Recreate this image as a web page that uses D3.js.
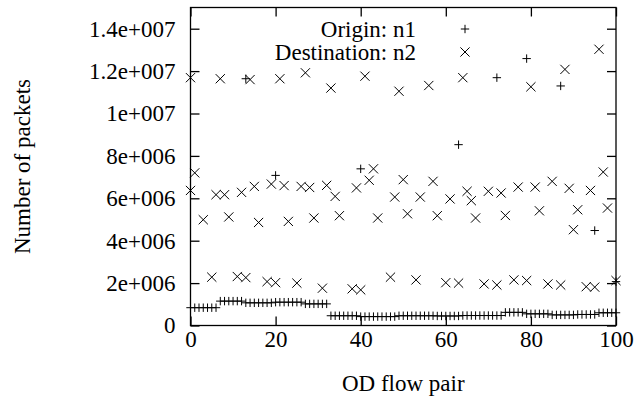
<!DOCTYPE html>
<html>
<head>
<meta charset="utf-8">
<script src="https://cdn.jsdelivr.net/npm/d3@7"></script>
<style>
  html, body { margin: 0; padding: 0; background: #fff; }
  svg { display: block; }
</style>
</head>
<body>
<svg id="chart" width="637" height="399"></svg>
<script>
// ---- data ----
const xTicks = [0, 20, 40, 60, 80, 100];
const yTicks = [0, 2e6, 4e6, 6e6, 8e6, 1e7, 1.2e7, 1.4e7];
const yTickLabels = ["0", "2e+006", "4e+006", "6e+006", "8e+006", "1e+007", "1.2e+007", "1.4e+007"];
const seriesNames = ["Origin: n1", "Destination: n2"];

// Origin n1 (+)
const originX = [
  0,1,2,3,4,5,6,
  7,8,9,10,11,12,
  13,14,15,16,17,18,19,20,21,22,23,24,25,26,27,28,29,30,31,32,
  33,34,35,36,37,38,39,
  40,41,42,43,44,45,46,47,48,49,50,51,52,53,54,55,56,57,58,59,60,61,62,63,64,65,66,67,68,69,70,
  71,72,73,74,75,76,77,78,79,80,81,82,83,84,85,86,87,88,89,90,91,92,93,94,95,96,97,98,99,100,
  13,20,40,63,72,79,87,95,100
];
const originY = [
  0.84e6,0.84e6,0.84e6,0.84e6,0.84e6,0.84e6,0.84e6,
  1.15e6,1.15e6,1.15e6,1.15e6,1.15e6,1.15e6,
  1.07e6,1.07e6,1.07e6,1.07e6,1.07e6,1.07e6,1.07e6,1.1e6,1.1e6,1.1e6,1.1e6,1.1e6,1.1e6,1.1e6,1.02e6,1.02e6,1.02e6,1.02e6,1.02e6,1.02e6,
  0.46e6,0.46e6,0.46e6,0.46e6,0.46e6,0.46e6,0.46e6,
  0.42e6,0.42e6,0.42e6,0.42e6,0.42e6,0.42e6,0.42e6,0.42e6,0.42e6,0.46e6,0.46e6,0.46e6,0.46e6,0.46e6,0.46e6,0.46e6,0.46e6,0.46e6,0.45e6,0.45e6,0.45e6,0.45e6,0.45e6,0.45e6,0.47e6,0.47e6,0.47e6,0.47e6,0.47e6,0.47e6,0.47e6,
  0.47e6,0.47e6,0.47e6,0.62e6,0.62e6,0.62e6,0.62e6,0.62e6,0.55e6,0.55e6,0.55e6,0.55e6,0.55e6,0.55e6,0.5e6,0.5e6,0.5e6,0.5e6,0.5e6,0.5e6,0.52e6,0.52e6,0.52e6,0.52e6,0.52e6,0.6e6,0.6e6,0.6e6,0.6e6,0.6e6,
  11.64e6,7.08e6,7.39e6,8.53e6,11.69e6,12.59e6,11.3e6,4.48e6,2.07e6
];

// Destination n2 (x)
const destX = [
  0,7,14,21,27,33,41,49,56,64,80,88,96,
  1,0,3,6,8,9,12,15,16,19,22,23,26,28,29,32,34,35,39,43,42,44,48,50,51,54,57,58,61,65,66,67,70,73,74,77,81,82,85,89,91,90,94,97,98,
  5,11,13,18,20,25,31,38,40,47,53,60,63,69,72,76,79,84,87,93,95,100
];
const destY = [
  11.69e6,11.64e6,11.6e6,11.64e6,11.92e6,11.2e6,11.76e6,11.05e6,11.32e6,11.69e6,11.26e6,12.08e6,13.03e6,
  7.2e6,6.37e6,4.99e6,6.17e6,6.17e6,5.12e6,6.28e6,6.56e6,4.86e6,6.67e6,6.6e6,4.91e6,6.56e6,6.51e6,5.07e6,6.61e6,6.09e6,5.18e6,6.49e6,7.39e6,6.85e6,5.07e6,6.06e6,6.88e6,5.27e6,6.06e6,6.8e6,5.18e6,5.97e6,6.33e6,5.89e6,5.07e6,6.33e6,6.25e6,5.19e6,6.53e6,6.53e6,5.41e6,6.8e6,6.47e6,5.46e6,4.52e6,6.37e6,7.24e6,5.54e6,
  2.28e6,2.31e6,2.26e6,2.07e6,2.02e6,2.0e6,1.76e6,1.73e6,1.68e6,2.28e6,2.15e6,2.02e6,2.0e6,1.96e6,1.91e6,2.15e6,2.12e6,1.96e6,1.91e6,1.83e6,1.81e6,2.12e6
];

const xLabel = "OD flow pair";
const yLabel = "Number of packets";

// ---- layout ----
const FONT = "Liberation Serif";
const svg = d3.select("#chart");
const mLeft = 190.5, mRight = 616, mTop = 7.5, mBottom = 325.5;
const x = d3.scaleLinear().domain([0, 100]).range([mLeft, mRight]);
const y = d3.scaleLinear().domain([0, 1.5e7]).range([mBottom, mTop]);
const fontSize = 23;
const tickLen = 9;

// frame
svg.append("rect")
  .attr("x", mLeft).attr("y", mTop)
  .attr("width", mRight - mLeft).attr("height", mBottom - mTop)
  .attr("fill", "none").attr("stroke", "#000").attr("stroke-width", 1.3);

function styleAxis(g) {
  g.attr("font-family", FONT).attr("font-size", fontSize);
  g.select(".domain").remove();
  g.selectAll("line").attr("stroke", "#000").attr("stroke-width", 1.3);
  g.selectAll("text").attr("fill", "#000");
}

// y axis (left) with inward ticks
const gyL = svg.append("g").attr("transform", `translate(${mLeft},0)`)
  .call(d3.axisLeft(y).tickValues(yTicks).tickFormat((d, i) => yTickLabels[i])
    .tickSize(-tickLen).tickPadding(15));
styleAxis(gyL);

// y axis mirror (right)
const gyR = svg.append("g").attr("transform", `translate(${mRight},0)`)
  .call(d3.axisRight(y).tickValues(yTicks).tickFormat("").tickSize(-tickLen));
styleAxis(gyR);

// x axis (bottom)
const gxB = svg.append("g").attr("transform", `translate(0,${mBottom})`)
  .call(d3.axisBottom(x).tickValues(xTicks).tickSize(-tickLen).tickPadding(5));
styleAxis(gxB);

// x axis mirror (top)
const gxT = svg.append("g").attr("transform", `translate(0,${mTop})`)
  .call(d3.axisTop(x).tickValues(xTicks).tickFormat("").tickSize(-tickLen));
styleAxis(gxT);

// axis titles
svg.append("text")
  .attr("x", (mLeft + mRight) / 2).attr("y", 391)
  .attr("text-anchor", "middle").attr("font-family", FONT).attr("font-size", fontSize)
  .attr("fill", "#000").text(xLabel);
svg.append("text")
  .attr("transform", `translate(30,${(mTop + mBottom) / 2}) rotate(-90)`)
  .attr("text-anchor", "middle").attr("font-family", FONT).attr("font-size", fontSize)
  .attr("fill", "#000").text(yLabel);

// markers
const ps = 4.2;
const plusPath = `M${-ps},0H${ps}M0,${-ps}V${ps}`;
const xs = 4.6;
const crossPath = `M${-xs},${-xs}L${xs},${xs}M${-xs},${xs}L${xs},${-xs}`;

const originData = originX.map((d, i) => [d, originY[i]]);
const destData = destX.map((d, i) => [d, destY[i]]);

svg.append("g").selectAll("path").data(originData).join("path")
  .attr("transform", d => `translate(${x(d[0])},${y(d[1])})`)
  .attr("d", plusPath).attr("stroke", "#000").attr("stroke-width", 1).attr("fill", "none");

svg.append("g").selectAll("path").data(destData).join("path")
  .attr("transform", d => `translate(${x(d[0])},${y(d[1])})`)
  .attr("d", crossPath).attr("stroke", "#000").attr("stroke-width", 1).attr("fill", "none");

// legend
const legend = [
  { name: seriesNames[0], path: plusPath, yv: 29 },
  { name: seriesNames[1], path: crossPath, yv: 52 }
];
legend.forEach(l => {
  svg.append("text").attr("x", 416).attr("y", l.yv).attr("dy", "0.35em")
    .attr("text-anchor", "end").attr("font-family", FONT).attr("font-size", fontSize)
    .attr("fill", "#000").text(l.name);
  svg.append("path").attr("transform", `translate(465,${l.yv})`)
    .attr("d", l.path).attr("stroke", "#000").attr("stroke-width", 1).attr("fill", "none");
});
</script>
</body>
</html>
